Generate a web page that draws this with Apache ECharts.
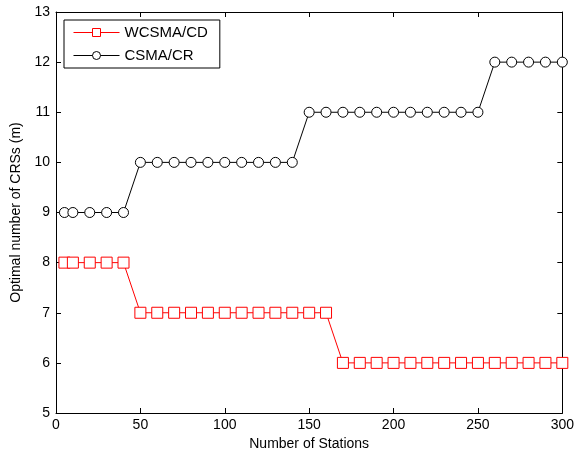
<!DOCTYPE html>
<html>
<head>
<meta charset="utf-8">
<script src="https://cdn.jsdelivr.net/npm/echarts@6/dist/echarts.min.js"></script>
<style>
  html, body { margin: 0; padding: 0; background: #fff; }
  #chart-container { width: 577px; height: 456px; }
</style>
</head>
<body>
<div id="chart-container"></div>
<script>
// data
const stations = [5, 10, 20, 30, 40, 50, 60, 70, 80, 90, 100, 110, 120, 130, 140, 150,
  160, 170, 180, 190, 200, 210, 220, 230, 240, 250, 260, 270, 280, 290, 300];
const wcsmaCd = [8, 8, 8, 8, 8, 7, 7, 7, 7, 7, 7, 7, 7, 7, 7, 7,
  7, 6, 6, 6, 6, 6, 6, 6, 6, 6, 6, 6, 6, 6, 6];
const csmaCr = [9, 9, 9, 9, 9, 10, 10, 10, 10, 10, 10, 10, 10, 10, 10, 11,
  11, 11, 11, 11, 11, 11, 11, 11, 11, 11, 12, 12, 12, 12, 12];

const xTicks = [0, 50, 100, 150, 200, 250, 300];
const yTicks = [5, 6, 7, 8, 9, 10, 11, 12, 13];

const font = "Liberation Sans, Arial, sans-serif";

function pairs(xs, ys) {
  return xs.map((x, i) => [x, ys[i]]);
}

const dom = document.getElementById("chart-container");
const chart = echarts.init(dom, null, { renderer: "canvas" });

// mirror axis (top / right) with inward ticks only
const mirror = (pos, min, max, interval) => ({
  type: "value",
  min, max, interval,
  position: pos,
  axisLine: { show: true, onZero: false, lineStyle: { color: "#000", width: 1 } },
  axisTick: { show: true, inside: true, length: 5, lineStyle: { color: "#000" } },
  axisLabel: { show: false },
  splitLine: { show: false },
});

const option = {
  animation: false,
  backgroundColor: "#fff",
  textStyle: { fontFamily: font },
  grid: { left: 56, right: 12, top: 12, bottom: 43 },
  legend: {
    orient: "vertical",
    left: 64,
    top: 20,
    padding: [5, 12, 5, 9],
    itemGap: 8,
    itemWidth: 46,
    itemHeight: 10,
    backgroundColor: "#fff",
    borderColor: "#000",
    borderWidth: 1,
    borderRadius: 0,
    lineStyle: { width: 1 },
    itemStyle: { borderWidth: 1 },
    textStyle: { fontFamily: font, fontSize: 15, color: "#000" },
    data: ["WCSMA/CD", "CSMA/CR"],
  },
  xAxis: [
    {
      type: "value",
      min: xTicks[0],
      max: xTicks[xTicks.length - 1],
      interval: 50,
      name: "Number of Stations",
      nameLocation: "middle",
      nameGap: 23,
      nameTextStyle: { fontFamily: font, fontSize: 14, color: "#000" },
      axisLine: { onZero: false, lineStyle: { color: "#000", width: 1 } },
      axisTick: { inside: true, length: 5, lineStyle: { color: "#000" } },
      axisLabel: { fontFamily: font, fontSize: 14, color: "#000", margin: 5 },
      splitLine: { show: false },
    },
    mirror("top", xTicks[0], xTicks[xTicks.length - 1], 50),
  ],
  yAxis: [
    {
      type: "value",
      min: yTicks[0],
      max: yTicks[yTicks.length - 1],
      interval: 1,
      name: "Optimal number of CRSs (m)",
      nameLocation: "middle",
      nameGap: 32,
      nameTextStyle: { fontFamily: font, fontSize: 14, color: "#000" },
      axisLine: { show: true, onZero: false, lineStyle: { color: "#000", width: 1 } },
      axisTick: { show: true, inside: true, length: 5, lineStyle: { color: "#000" } },
      axisLabel: { fontFamily: font, fontSize: 14, color: "#000", margin: 6 },
      splitLine: { show: false },
    },
    mirror("right", yTicks[0], yTicks[yTicks.length - 1], 1),
  ],
  series: [
    {
      name: "WCSMA/CD",
      type: "line",
      data: pairs(stations, wcsmaCd),
      symbol: "rect",
      symbolSize: 11,
      color: "#ff0000",
      lineStyle: { color: "#ff0000", width: 1 },
      itemStyle: { color: "#fff", borderColor: "#ff0000", borderWidth: 1 },
      z: 3,
    },
    {
      name: "CSMA/CR",
      type: "line",
      data: pairs(stations, csmaCr),
      symbol: "circle",
      symbolSize: 10,
      color: "#000",
      lineStyle: { color: "#000", width: 1 },
      itemStyle: { color: "#fff", borderColor: "#000", borderWidth: 1 },
      z: 3,
    },
  ],
};

chart.setOption(option);
window.addEventListener("resize", () => chart.resize());
</script>
</body>
</html>
